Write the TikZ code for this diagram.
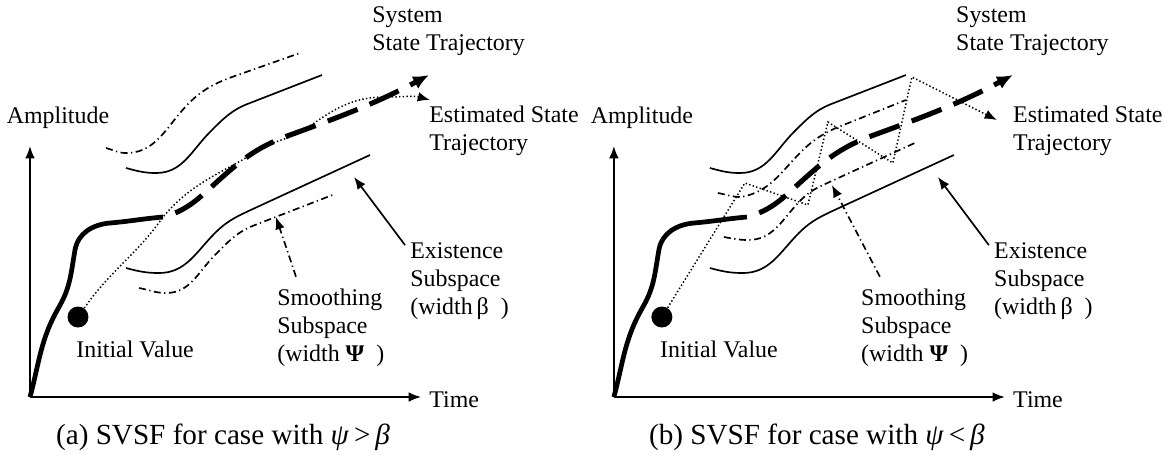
\documentclass[tikz,border=0pt]{standalone}
\usepackage{fontspec}
\setmainfont{Liberation Serif}
\usetikzlibrary{arrows.meta}
\usetikzlibrary{calc}
\tikzset{>={Latex[length=7pt,width=5.5pt]}}
\tikzset{lbl/.style={align=left,inner sep=0pt,font=\fontsize{13.6}{16}\selectfont}}
\tikzset{capt/.style={inner sep=0pt,font=\fontsize{16.6}{19}\selectfont}}
\tikzset{bound/.style={line width=0.95pt}}
\tikzset{sysline/.style={line width=2.7pt}}
\tikzset{sysdash/.style={line width=2.9pt,dash pattern=on 0.64cm off 0.26cm,dash phase=0.64cm}}
\tikzset{smline/.style={line width=0.95pt,dash pattern=on 0.14cm off 0.07cm on 0.025cm off 0.07cm}}
\tikzset{estline/.style={line width=0.85pt,dash pattern=on 0.8pt off 1.3pt}}
\tikzset{dotv/.style={circle,fill,minimum size=0.42cm,inner sep=0pt}}

\begin{document}
\begin{tikzpicture}[x=0.02cm,y=-0.02cm]
\useasboundingbox (0,0) rectangle (1166,458);

% (a) psi > beta
\begin{scope}
\coordinate (o) at (30,397);
\coordinate (yEnd) at (30,146);
\coordinate (xEnd) at (421,397);
\draw[bound,->] (o) -- (yEnd);
\draw[bound,->] (o) -- (xEnd);
\node[lbl] (amp) at (58,118) {Amplitude};
\node[lbl,anchor=west] (time) at (429,400) {Time};

\draw[bound] (126,168) to[out=-15,in=180] (156,173) to[out=0,in=225] (210,132)
 to[out=45,in=200] (250,103) -- (322,75);
\draw[bound] (126,268) to[out=-15,in=180] (159,273) to[out=0,in=225] (215,233)
 to[out=45,in=205] (255,208) -- (370,155);

\draw[smline] (106,148) to[out=-15,in=180] (126,153) to[out=0,in=230] (180,113)
 to[out=50,in=200] (232,77) -- (300,53);
\draw[smline] (139,288) to[out=-10,in=180] (166,293) to[out=0,in=225] (215,255)
 to[out=45,in=201] (255,225) -- (335,194);

\coordinate (sysTip) at (429,75);
\draw[sysline] (o) to[out=75,in=240] (59,307) to[out=60,in=260] (75,250)
 to[out=80,in=185] (110,223) to[out=5,in=185] (163,217);
\draw[sysdash,-{Latex[length=9pt,width=8pt]}] (163,217) to[out=15,in=222] (219,180)
 to[out=42,in=200] (290,135) to[out=20,in=208] (sysTip);

\node[dotv] (init) at (78,317) {};
\node[lbl,anchor=west] (initLbl) at (76,349) {Initial Value};
\coordinate (estTip) at (430,100);
\draw[estline,->] (init) to[out=55,in=235] (163,217) to[out=50,in=212] (259,150)
 to[out=32,in=215] (307,128) to[out=35,in=180] (385,97) to[out=0,in=165] (estTip);

\node[lbl,anchor=west] (sys) at (372,31) {System\\State Trajectory};
\node[lbl,anchor=west] (est) at (429,131) {Estimated State\\Trajectory};
\node[lbl,anchor=west] (ex) at (410,281) {Existence\\Subspace\\(width\,β\ \ )};
\node[lbl,anchor=west] (sm) at (277,328) {Smoothing\\Subspace\\(width \textbf{Ψ}\ \ )};

\coordinate (exTip) at (354,177);
\coordinate (smTip) at (276,217);
\draw[bound,->] ([shift={(-5,3)}]ex.north west) -- (exTip);
\draw[smline,->] ([shift={(19,-12)}]sm.north west) -- (smTip);

\node[capt] (capA) at (223,437) {(a) SVSF for case with \textit{ψ}\,>\,\textit{β}};
\end{scope}

% (b) psi < beta
\begin{scope}[xshift=11.68cm]
\coordinate (o') at (30,397);
\coordinate (yEnd') at (30,146);
\coordinate (xEnd') at (421,397);
\draw[bound,->] (o') -- (yEnd');
\draw[bound,->] (o') -- (xEnd');
\node[lbl] (amp') at (58,118) {Amplitude};
\node[lbl,anchor=west] (time') at (429,400) {Time};

\draw[bound] (126,168) to[out=-15,in=180] (156,173) to[out=0,in=225] (210,132)
 to[out=45,in=200] (250,103) -- (322,75);
\draw[bound] (126,268) to[out=-15,in=180] (159,273) to[out=0,in=225] (215,233)
 to[out=45,in=205] (255,208) -- (370,155);

\draw[smline] (134,193) to[out=-10,in=180] (157,197) to[out=10,in=225] (217,152)
 to[out=45,in=205] (252,128) -- (322,100);
\draw[smline] (140,237) to[out=-10,in=180] (164,240) to[out=0,in=225] (217,200)
 to[out=45,in=205] (250,180) -- (333,142);

\coordinate (sysTip') at (429,75);
\draw[sysline] (o') to[out=75,in=240] (59,307) to[out=60,in=260] (75,250)
 to[out=80,in=185] (110,223) to[out=5,in=185] (163,217);
\draw[sysdash,-{Latex[length=9pt,width=8pt]}] (163,217) to[out=15,in=222] (219,180)
 to[out=42,in=200] (290,135) to[out=20,in=208] (sysTip');

\node[dotv] (init') at (78,317) {};
\node[lbl,anchor=west] (initLbl') at (76,349) {Initial Value};
\coordinate (estTip') at (413,120);
\draw[estline,->] (init') -- (161,183) -- (224,205) -- (244,122) -- (309,163)
 -- (328,77) -- (estTip');

\node[lbl,anchor=west] (sys') at (372,31) {System\\State Trajectory};
\node[lbl,anchor=west] (est') at (429,131) {Estimated State\\Trajectory};
\node[lbl,anchor=west] (ex') at (410,281) {Existence\\Subspace\\(width\,β\ \ )};
\node[lbl,anchor=west] (sm') at (277,328) {Smoothing\\Subspace\\(width \textbf{Ψ}\ \ )};

\coordinate (exTip') at (354,177);
\coordinate (smTip') at (248,185);
\draw[bound,->] ([shift={(-5,3)}]ex'.north west) -- (exTip');
\draw[smline,->] ([shift={(19,-12)}]sm'.north west) -- (smTip');

\node[capt] (capB) at (233,437) {(b) SVSF for case with \textit{ψ}\,<\,\textit{β}};
\end{scope}
\end{tikzpicture}
\end{document}
